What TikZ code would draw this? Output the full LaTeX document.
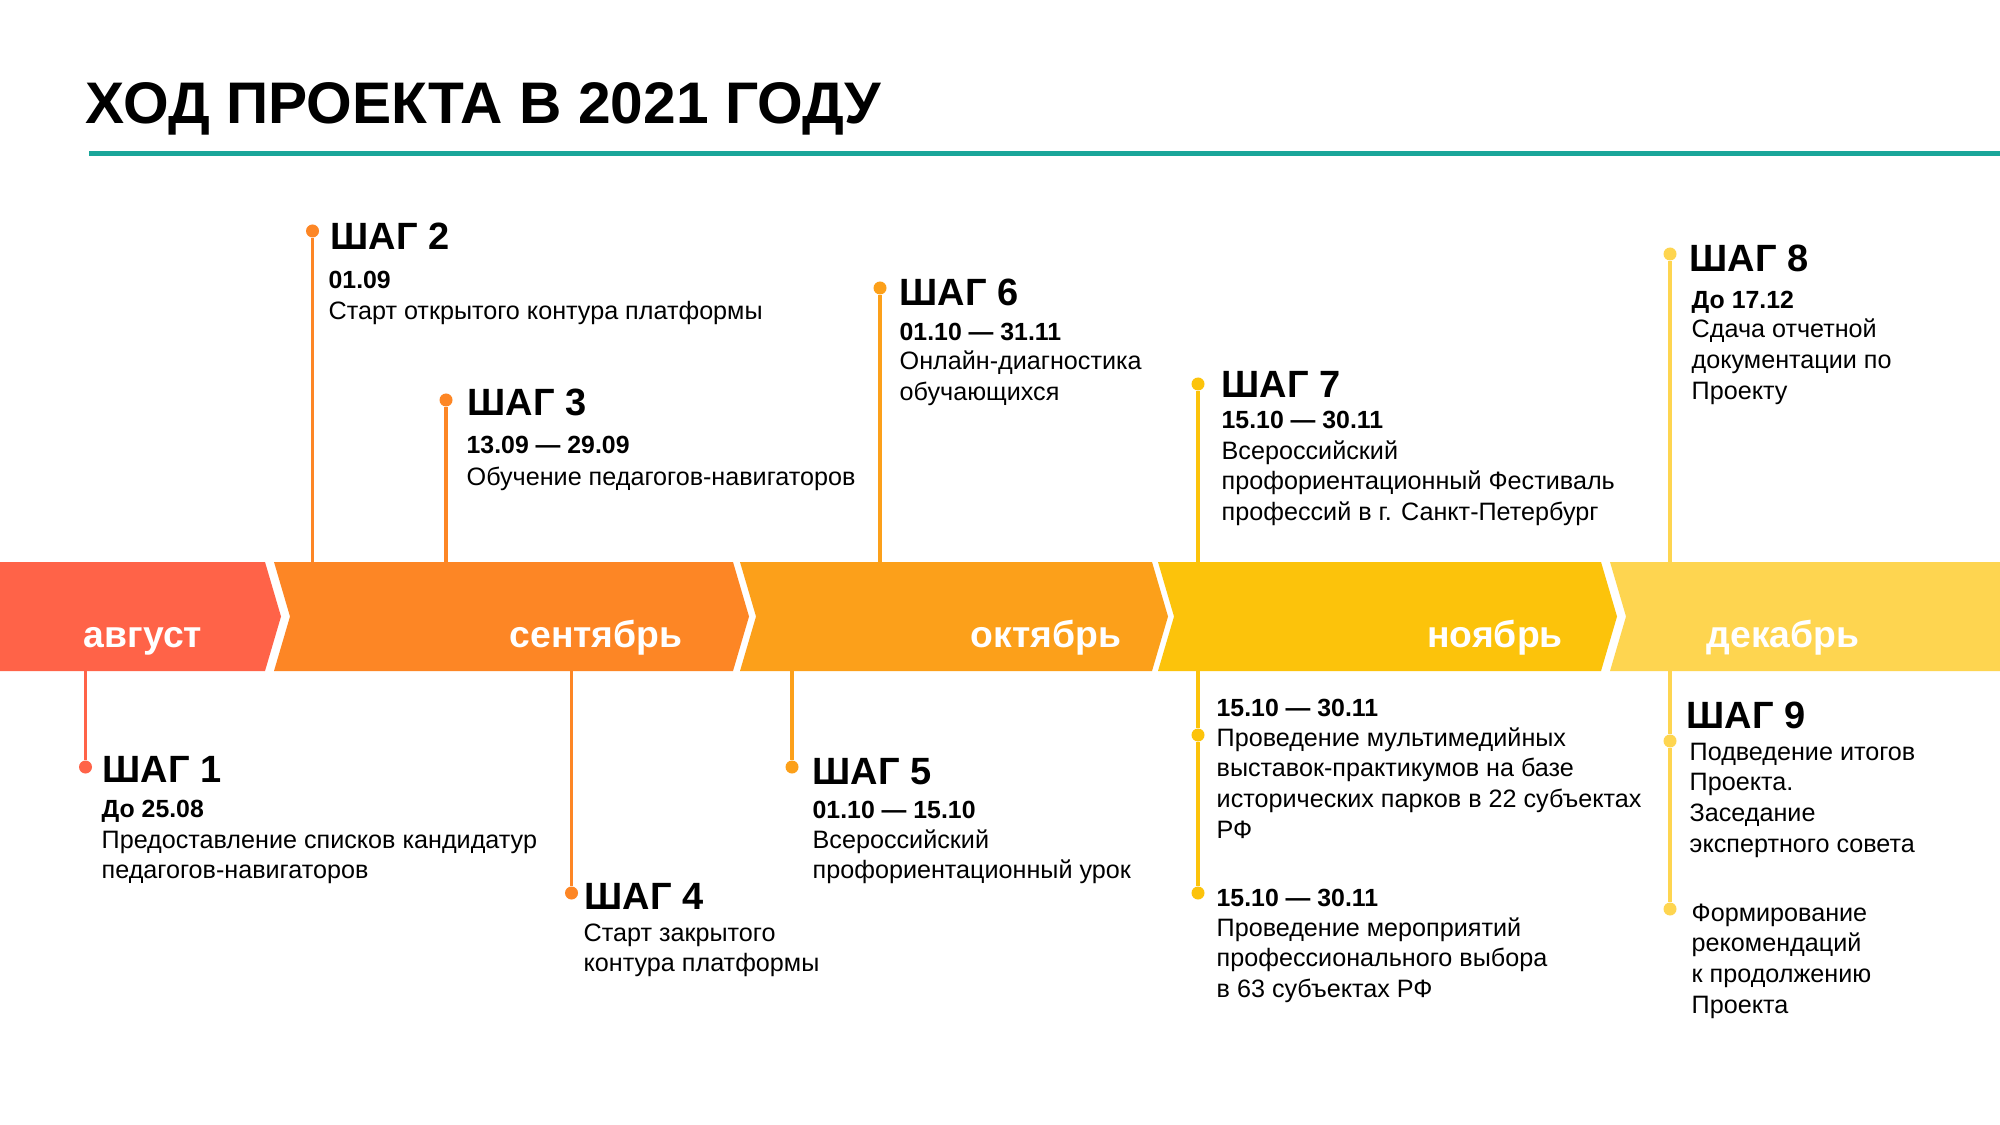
\documentclass[tikz,border=0pt]{standalone}
\usepackage{fontspec}
\setmainfont{Liberation Sans}
\usepackage{xcolor}
\usetikzlibrary{positioning}

\definecolor{augc}{RGB}{255,99,72}
\definecolor{sepc}{RGB}{253,134,37}
\definecolor{octc}{RGB}{252,160,26}
\definecolor{novc}{RGB}{252,195,11}
\definecolor{decc}{RGB}{254,213,80}
\definecolor{rulec}{RGB}{26,166,154}
\newcommand{\steptext}[1]{\begin{tabular}[t]{@{}l@{}}#1\end{tabular}}

\begin{document}
\begin{tikzpicture}[x=0.3pt,y=-0.3pt,
  hdr/.style={anchor=base west,inner sep=0pt,font=\bfseries\fontsize{11.4}{11.4}\selectfont},
  dte/.style={anchor=base west,inner sep=0pt,font=\bfseries\fontsize{7.45}{9.2}\selectfont},
  txt/.style={anchor=base west,inner sep=0pt,font=\fontsize{7.55}{9.2}\selectfont},
  dot/.style={circle,fill,inner sep=0pt,minimum size=3.9pt},
  stem/.style={line width=1.1pt},
  month/.style={anchor=base,inner sep=0pt,text=white,font=\bfseries\fontsize{11.2}{11.2}\selectfont}]
\fill[white] (0,0) rectangle (2000,1125);
\useasboundingbox (0,0) rectangle (2000,1125);
% title
\node[anchor=base west,inner sep=0pt,font=\bfseries\fontsize{17.6}{17.6}\selectfont] (title) at (85,124) {ХОД ПРОЕКТА В 2021 ГОДУ};
\coordinate (rl) at (89,154);
\coordinate (rr) at (2000,154);
\draw[rulec,line width=1.5pt] (rl) -- (rr);
% month band
\fill[augc] (0,562) -- (265,562) -- (281,616.5) -- (265,671) -- (0,671) -- cycle;
\fill[sepc] (274,562) -- (733,562) -- (749,616.5) -- (733,671) -- (274,671) -- (290,616.5) -- cycle;
\fill[octc] (740,562) -- (1152,562) -- (1168,616.5) -- (1152,671) -- (740,671) -- (756,616.5) -- cycle;
\fill[novc] (1158,562) -- (1601,562) -- (1617,616.5) -- (1601,671) -- (1158,671) -- (1174,616.5) -- cycle;
\fill[decc] (1610,562) -- (2000,562) -- (2000,671) -- (1610,671) -- (1626,616.5) -- cycle;
\node[month] (maug) at (143,647) {август};
\node[month] (msep) at (596,647) {сентябрь};
\node[month] (moct) at (1046,647) {октябрь};
\node[month] (mnov) at (1495,647) {ноябрь};
\node[month] (mdec) at (1783,647) {декабрь};

% steps above the band
\node[dot,sepc] (d2) at (312.5,231) {};
\coordinate (b2) at (312.5,562);
\draw[stem,sepc] (d2) -- (b2);
\node[hdr] (h2) at (330,250) {ШАГ 2};
\node[dte] (t2) at (328,289) {01.09};
\node[txt] (x2) at (328,320) {Старт открытого контура платформы};

\node[dot,sepc] (d3) at (446,400) {};
\coordinate (b3) at (446,562);
\draw[stem,sepc] (d3) -- (b3);
\node[hdr] (h3) at (467,416) {ШАГ 3};
\node[dte] (t3) at (466,454) {13.09 — 29.09};
\node[txt] (x3) at (466,485) {Обучение педагогов-навигаторов};

\node[dot,octc] (d6) at (880,288) {};
\coordinate (b6) at (880,562);
\draw[stem,octc] (d6) -- (b6);
\node[hdr] (h6) at (899,306) {ШАГ 6};
\node[dte] (t6) at (899,341) {01.10 — 31.11};
\node[txt] (x6) at (899,370) {\steptext{Онлайн-диагностика\\обучающихся}};

\node[dot,novc] (d7) at (1198,384) {};
\coordinate (b7) at (1198,562);
\draw[stem,novc] (d7) -- (b7);
\node[hdr] (h7) at (1221,398) {ШАГ 7};
\node[dte] (t7) at (1221,429) {15.10 — 30.11};
\node[txt] (x7) at (1221,459) {\steptext{Всероссийский\\профориентационный Фестиваль\\профессий в г. Санкт-Петербург}};

\node[dot,decc] (d8) at (1670,254) {};
\coordinate (b8) at (1670,562);
\draw[stem,decc] (d8) -- (b8);
\node[hdr] (h8) at (1689,272) {ШАГ 8};
\node[dte] (t8) at (1691,309) {До 17.12};
\node[txt] (x8) at (1691,338) {\steptext{Сдача отчетной\\документации по\\Проекту}};

% steps below the band
\coordinate (b1) at (85.5,671);
\node[dot,augc] (d1) at (85.5,767) {};
\draw[stem,augc] (b1) -- (d1);
\node[hdr] (h1) at (102,782) {ШАГ 1};
\node[dte] (t1) at (101,817) {До 25.08};
\node[txt] (x1) at (101,848) {\steptext{Предоставление списков кандидатур\\педагогов-навигаторов}};

\coordinate (b4) at (571.5,671);
\node[dot,sepc] (d4) at (571.5,893) {};
\draw[stem,sepc] (b4) -- (d4);
\node[hdr] (h4) at (584,909) {ШАГ 4};
\node[txt] (x4) at (583,941) {\steptext{Старт закрытого\\контура платформы}};

\coordinate (b5) at (792,671);
\node[dot,octc] (d5) at (792,767) {};
\draw[stem,octc] (b5) -- (d5);
\node[hdr] (h5) at (812,784) {ШАГ 5};
\node[dte] (t5) at (812,818) {01.10 — 15.10};
\node[txt] (x5) at (812,848) {\steptext{Всероссийский\\профориентационный урок}};

\coordinate (bn) at (1198,671);
\node[dot,novc] (dna) at (1198,735) {};
\node[dot,novc] (dnb) at (1198,893) {};
\draw[stem,novc] (bn) -- (dna) -- (dnb);
\node[dte] (tna) at (1216,716) {15.10 — 30.11};
\node[txt] (xna) at (1216,746) {\steptext{Проведение мультимедийных\\выставок-практикумов на базе\\исторических парков в 22 субъектах\\РФ}};
\node[dte] (tnb) at (1216,906) {15.10 — 30.11};
\node[txt] (xnb) at (1216,936) {\steptext{Проведение мероприятий\\профессионального выбора\\в 63 субъектах РФ}};

\coordinate (b9) at (1670,671);
\node[dot,decc] (d9a) at (1670,741) {};
\node[dot,decc] (d9b) at (1670,909) {};
\draw[stem,decc] (b9) -- (d9a) -- (d9b);
\node[hdr] (h9) at (1686,728) {ШАГ 9};
\node[txt] (x9a) at (1689,760) {\steptext{Подведение итогов\\Проекта.\\Заседание\\экспертного совета}};
\node[txt] (x9b) at (1691,921) {\steptext{Формирование\\рекомендаций\\к продолжению\\Проекта}};
\end{tikzpicture}
\end{document}
